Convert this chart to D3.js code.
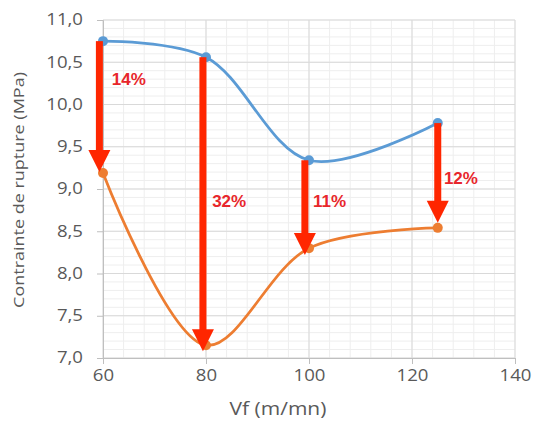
<!DOCTYPE html>
<html><head><meta charset="utf-8">
<script src="https://cdn.jsdelivr.net/npm/d3@7"></script>
<style>body{margin:0;background:#fff}svg{display:block}</style>
</head><body>
<svg id="c" width="535" height="423"></svg>
<script>
const vf = [60, 80, 100, 125];
const seriesBlue = [10.75, 10.56, 9.34, 9.78];
const seriesOrange = [9.19, 7.15, 8.30, 8.54];
const arrowX = [59.3, 79.4, 99.2, 125.0];
const arrowTo = [9.2, 7.08, 8.22, 8.6];
const arrowLabels = ["14%", "32%", "11%", "12%"];
const labelX = [65, 84.5, 104, 129.5];
const labelY = [10.3, 8.85, 8.85, 9.13];
const xTicks = [60, 80, 100, 120, 140];
const yTicks = [7.0, 7.5, 8.0, 8.5, 9.0, 9.5, 10.0, 10.5, 11.0];

const svg = d3.select("#c");
const L = 103, R = 515, T = 20, B = 358;
const x = d3.scaleLinear().domain([60, 140]).range([L, R]);
const y = d3.scaleLinear().domain([7, 11]).range([B, T]);
const FONT = "'Open Sans', 'Noto Sans', sans-serif";
const SX = 1.2;

const g = svg.append("g");
// minor grid
const xMinor = d3.range(60, 140.1, 4);
const yMinor = d3.range(70, 110.1, 1).map(v => v / 10);
g.selectAll(".vmin").data(xMinor).enter().append("line")
  .attr("x1", d => x(d)).attr("x2", d => x(d)).attr("y1", T).attr("y2", B)
  .attr("stroke", "#eeeeee").attr("stroke-width", 1);
g.selectAll(".hmin").data(yMinor).enter().append("line")
  .attr("x1", L).attr("x2", R).attr("y1", d => y(d)).attr("y2", d => y(d))
  .attr("stroke", "#eeeeee").attr("stroke-width", 1);
// major grid
g.selectAll(".vmaj").data(xTicks).enter().append("line")
  .attr("x1", d => x(d)).attr("x2", d => x(d)).attr("y1", T).attr("y2", B)
  .attr("stroke", "#d9d9d9").attr("stroke-width", 1);
g.selectAll(".hmaj").data(yTicks).enter().append("line")
  .attr("x1", L).attr("x2", R).attr("y1", d => y(d)).attr("y2", d => y(d))
  .attr("stroke", "#d9d9d9").attr("stroke-width", 1);

// axes
const fmt = d => d.toFixed(1).replace(".", ",");
const yAxis = svg.append("g").attr("transform", `translate(${L},0)`)
  .call(d3.axisLeft(y).tickValues(yTicks).tickFormat(fmt).tickSize(6).tickPadding(6));
const xAxis = svg.append("g").attr("transform", `translate(0,${B})`)
  .call(d3.axisBottom(x).tickValues(xTicks).tickSize(6).tickPadding(6));
[yAxis, xAxis].forEach(a => {
  a.select(".domain").attr("stroke", "#bfbfbf");
  a.selectAll(".tick line").attr("stroke", "#bfbfbf");
  a.selectAll("text").attr("fill", "#595959").attr("font-size", "15.5px")
    .attr("font-family", FONT);
});
yAxis.selectAll(".tick text").attr("x", -20 / SX).attr("transform", `scale(${SX},1)`);
xAxis.selectAll(".tick text").attr("transform", `scale(${SX},1)`);

svg.append("text").attr("transform", "translate(24,190) rotate(-90) scale(1.2,1)")
  .attr("text-anchor", "middle").attr("font-size", "15px").attr("fill", "#595959")
  .attr("font-family", FONT)
  .text("Contrainte de rupture (MPa)");
svg.append("text").attr("transform", "translate(278,415) scale(1.2,1)")
  .attr("text-anchor", "middle").attr("font-size", "17.5px").attr("fill", "#595959")
  .attr("font-family", FONT)
  .text("Vf (m/mn)");

// lines
const line = d3.line().x(d => x(d[0])).y(d => y(d[1])).curve(d3.curveCatmullRom.alpha(0.5));
const series = [
  {vals: seriesBlue, color: "#5b9bd5"},
  {vals: seriesOrange, color: "#ed7d31"}
];
series.forEach(s => {
  const pts = vf.map((v, i) => [v, s.vals[i]]);
  svg.append("path").attr("d", line(pts)).attr("fill", "none")
    .attr("stroke", s.color).attr("stroke-width", 2.75);
  svg.selectAll(null).data(pts).enter().append("circle")
    .attr("cx", d => x(d[0])).attr("cy", d => y(d[1])).attr("r", 5)
    .attr("fill", s.color);
});

// arrows
const red = "#ff2600";
const headH = 22, headW = 22;
vf.forEach((v, i) => {
  const ax = x(arrowX[i]);
  const y0 = y(seriesBlue[i]);
  const tip = y(arrowTo[i]);
  svg.append("rect").attr("x", ax - 3.5).attr("y", y0).attr("width", 7)
    .attr("height", tip - headH - y0 + 1).attr("fill", red);
  svg.append("path")
    .attr("d", `M${ax - headW / 2},${tip - headH}L${ax + headW / 2},${tip - headH}L${ax},${tip}Z`)
    .attr("fill", red);
  svg.append("text").attr("x", x(labelX[i])).attr("y", y(labelY[i]))
    .attr("text-anchor", "middle").attr("dominant-baseline", "central")
    .attr("font-size", "17px").attr("font-weight", "bold")
    .attr("font-family", "'Liberation Sans', Arial, sans-serif")
    .attr("fill", "#e8262b").text(arrowLabels[i]);
});
</script>
</body></html>
